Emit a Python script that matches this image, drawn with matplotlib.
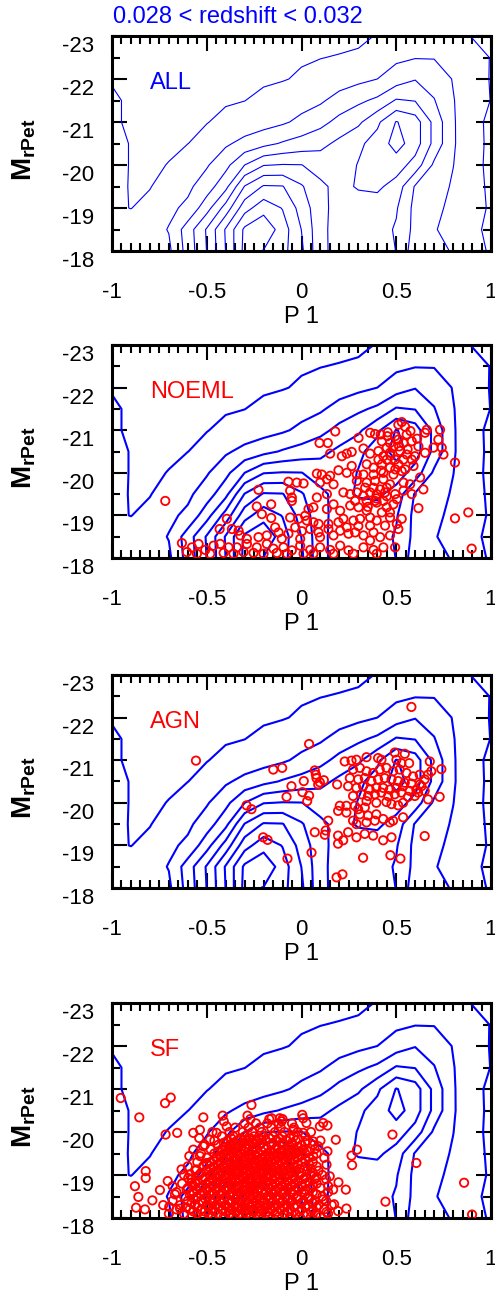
import numpy as np
import matplotlib
matplotlib.use('Agg')
from matplotlib import pyplot as plt
from matplotlib.ticker import MultipleLocator, FuncFormatter

plt.rcParams['font.family'] = ['Liberation Sans', 'DejaVu Sans']
plt.rcParams['mathtext.fontset'] = 'custom'
plt.rcParams['mathtext.rm'] = 'Liberation Sans'
plt.rcParams['mathtext.bf'] = 'Liberation Sans:bold'
plt.rcParams['axes.unicode_minus'] = False

title = '0.028 < redshift < 0.032'
panel_names = ['ALL', 'NOEML', 'AGN', 'SF']
panel_colors = ['blue', 'red', 'red', 'red']

# density grid of the whole sample (contour levels 1..9)
p1_bins = [-1.0, -0.9, -0.8, -0.7, -0.6, -0.5, -0.4, -0.3, -0.2, -0.1, 0.0,
           0.1, 0.2, 0.3, 0.4, 0.5, 0.6, 0.7, 0.8, 0.9, 1.0]
mag_bins = [-23.0, -22.5, -22.0, -21.5, -21.0, -20.5, -20.0, -19.5, -19.0, -18.5, -18.0]
density = [
    [0.3, 0.2, 0.2, 0.2, 0.3, 0.3, 0.4, 0.5, 0.5, 0.6, 0.7, 0.75, 0.75, 0.8, 1.05, 1.2, 1.3, 1.3, 1.15, 0.98, 0.7],
    [0.6, 0.4, 0.35, 0.4, 0.45, 0.5, 0.6, 0.65, 0.75, 0.85, 0.92, 0.98, 1.05, 1.15, 1.6, 1.8, 1.95, 1.95, 1.6, 1.2, 0.98],
    [0.95, 0.7, 0.55, 0.55, 0.6, 0.65, 0.7, 0.8, 0.88, 0.95, 1.1, 1.3, 1.5, 1.75, 2.0, 2.5, 2.95, 2.6, 1.95, 1.4, 0.95],
    [1.1, 0.9, 0.75, 0.75, 0.8, 0.85, 0.92, 0.99, 1.2, 1.4, 1.6, 1.85, 2.4, 2.8, 3.2, 4.1, 3.95, 3.05, 2.05, 1.4, 0.98],
    [1.05, 0.95, 0.85, 0.85, 0.9, 0.97, 1.2, 1.4, 1.6, 1.85, 2.25, 2.7, 3.3, 3.8, 4.8, 6.05, 5.5, 3.7, 2.1, 1.3, 0.8],
    [1.2, 0.97, 0.9, 0.9, 0.99, 1.3, 1.85, 2.3, 2.7, 3.1, 3.4, 3.7, 4.25, 4.8, 5.4, 6.4, 5.5, 3.7, 2.1, 1.35, 0.8],
    [1.2, 0.97, 0.9, 1.02, 1.5, 1.9, 2.7, 4.0, 4.95, 5.05, 5.02, 4.6, 4.5, 5.05, 5.4, 5.5, 4.6, 2.8, 2.02, 1.35, 0.75],
    [1.15, 0.97, 0.95, 1.5, 1.8, 2.5, 3.7, 6.05, 7.1, 7.05, 6.1, 5.2, 4.7, 5.1, 5.2, 4.6, 2.9, 2.4, 1.9, 1.4, 0.8],
    [1.15, 0.98, 1.3, 1.8, 2.2, 3.6, 5.4, 7.6, 8.6, 7.95, 6.6, 5.3, 4.6, 4.5, 4.5, 4.1, 2.7, 2.2, 1.8, 1.3, 0.9],
    [1.4, 1.5, 1.6, 2.05, 3.5, 5.1, 7.1, 9.2, 9.8, 8.5, 6.98, 5.25, 4.6, 4.5, 4.4, 3.9, 2.7, 2.1, 1.5, 1.1, 0.9],
    [1.1, 1.4, 1.6, 1.8, 3.4, 5.02, 7.02, 9.3, 8.95, 8.3, 7.2, 5.2, 4.7, 4.6, 4.5, 3.98, 2.4, 2.2, 1.95, 1.3, 0.9],
]
levels = [1, 2, 3, 4, 5, 6, 7, 8, 9]

noeml_points = [
    (0.178, -20.97), (0.511, -21.13), (0.529, -21.19), (0.547, -21.08), (0.652, -20.94), (0.661, -21.01),
    (0.731, -21.01), (0.362, -20.94), (0.388, -20.91), (0.418, -20.90), (0.453, -20.86), (0.494, -20.86),
    (0.555, -20.90), (0.095, -20.70), (0.139, -20.70), (0.301, -20.82), (0.424, -20.74), (0.467, -20.70),
    (0.511, -20.78), (0.538, -20.70), (0.582, -20.74), (0.617, -20.62), (0.722, -20.78), (0.696, -20.59),
    (0.740, -20.59), (0.485, -20.62), (0.450, -20.59), (0.151, -20.45), (0.213, -20.39), (0.239, -20.45),
    (0.265, -20.49), (0.327, -20.57), (0.362, -20.45), (0.406, -20.51), (0.432, -20.39), (0.467, -20.47),
    (0.520, -20.51), (0.555, -20.43), (0.599, -20.39), (0.652, -20.47), (0.749, -20.43), (0.494, -20.31),
    (0.538, -20.31), (0.582, -20.31), (0.450, -20.31), (0.406, -20.31), (0.810, -20.24), (0.344, -20.20),
    (0.380, -20.12), (0.424, -20.20), (0.467, -20.12), (0.511, -20.20), (0.547, -20.08), (0.591, -20.16),
    (0.265, -20.16), (0.239, -20.00), (0.195, -20.06), (0.081, -19.98), (0.107, -19.96), (0.151, -19.93),
    (0.292, -19.96), (0.327, -19.96), (0.380, -19.96), (0.432, -20.00), (0.485, -19.96), (0.529, -20.04),
    (0.626, -19.89), (-0.069, -19.79), (-0.025, -19.77), (0.011, -19.75), (0.134, -19.85), (0.169, -19.73),
    (0.098, -19.77), (0.292, -19.81), (0.344, -19.77), (0.388, -19.81), (0.432, -19.85), (0.467, -19.73),
    (0.538, -19.77), (0.573, -19.73), (0.336, -19.65), (0.380, -19.65), (0.415, -19.61), (0.450, -19.65),
    (-0.227, -19.60), (-0.060, -19.58), (-0.051, -19.42), (-0.051, -19.34), (0.081, -19.42), (0.134, -19.50),
    (0.221, -19.54), (0.257, -19.50), (0.292, -19.54), (0.327, -19.46), (0.362, -19.54), (0.397, -19.50),
    (0.441, -19.54), (0.494, -19.50), (0.538, -19.58), (0.582, -19.50), (0.643, -19.61), (0.283, -19.34),
    (0.344, -19.34), (0.388, -19.34), (0.432, -19.34), (0.503, -19.38), (-0.236, -19.21), (-0.160, -19.26),
    (0.037, -19.15), (0.063, -19.19), (0.134, -19.15), (0.169, -19.26), (0.257, -19.23), (0.301, -19.19),
    (0.397, -19.30), (0.450, -19.19), (0.485, -19.26), (0.617, -19.17), (0.204, -19.11), (0.344, -19.11),
    (0.424, -19.07), (0.467, -19.07), (-0.394, -18.92), (-0.209, -19.03), (-0.160, -18.94), (-0.060, -18.95),
    (-0.016, -18.92), (0.019, -18.99), (0.028, -18.88), (0.063, -18.84), (0.090, -18.80), (0.142, -18.80),
    (0.195, -18.84), (0.221, -18.92), (0.274, -18.88), (0.309, -18.92), (0.362, -18.95), (0.397, -18.88),
    (0.467, -18.95), (0.529, -18.92), (0.810, -18.93), (0.880, -19.07), (0.239, -18.72), (0.362, -18.76),
    (0.441, -18.76), (0.503, -18.80), (-0.432, -18.68), (-0.367, -18.68), (-0.332, -18.64), (-0.139, -18.72),
    (-0.121, -18.60), (-0.069, -18.57), (-0.033, -18.72), (0.002, -18.63), (0.046, -18.68), (0.090, -18.60),
    (0.142, -18.68), (0.169, -18.53), (0.204, -18.64), (0.248, -18.57), (0.283, -18.60), (0.327, -18.53),
    (0.380, -18.60), (0.415, -18.49), (0.467, -18.53), (0.511, -18.68), (-0.323, -18.53), (-0.288, -18.45),
    (-0.227, -18.49), (-0.183, -18.53), (-0.104, -18.45), (-0.007, -18.45), (0.098, -18.49), (0.362, -18.41),
    (-0.631, -18.35), (-0.578, -18.25), (-0.543, -18.33), (-0.508, -18.19), (-0.464, -18.29), (-0.429, -18.33),
    (-0.385, -18.25), (-0.341, -18.25), (-0.288, -18.33), (-0.236, -18.25), (-0.183, -18.33), (-0.148, -18.22),
    (-0.095, -18.25), (-0.051, -18.18), (-0.007, -18.29), (0.046, -18.19), (0.098, -18.25), (0.151, -18.19),
    (0.204, -18.29), (0.248, -18.18), (0.327, -18.25), (0.380, -18.19), (0.432, -18.25), (0.494, -18.25),
    (0.898, -18.22), (-0.605, -18.14), (-0.552, -18.10), (-0.482, -18.10), (-0.411, -18.12), (-0.359, -18.10),
    (-0.306, -18.14), (-0.253, -18.12), (-0.200, -18.10), (-0.130, -18.12), (-0.077, -18.10), (0.011, -18.10),
    (0.063, -18.10), (0.169, -18.10), (0.274, -18.10), (0.397, -18.10), (-0.719, -19.34),
    (0.455, -20.95), (0.575, -20.98), (0.610, -20.80), (0.470, -20.40), (0.515, -20.62), (0.560, -20.55),
    (0.420, -20.05), (0.495, -20.08), (0.450, -19.45), (0.395, -19.40), (0.350, -19.20), (0.300, -18.75),
]

agn_points = [
    (0.580, -22.25), (0.040, -21.38), (-0.557, -20.99), (-0.149, -20.78), (-0.102, -20.82), (0.070, -20.76),
    (0.076, -20.66), (0.079, -20.58), (0.097, -20.48), (0.118, -20.53), (0.088, -20.43), (0.012, -20.51),
    (-0.053, -20.39), (0.005, -20.25), (0.040, -20.17), (-0.079, -20.14), (0.030, -20.04), (-0.290, -19.94),
    (-0.264, -19.85), (0.188, -20.43), (0.228, -20.97), (0.264, -20.99), (0.290, -21.01), (0.343, -21.07),
    (0.404, -21.05), (0.422, -21.01), (0.492, -21.18), (0.545, -21.15), (0.501, -21.01), (0.527, -20.93),
    (0.568, -20.93), (0.677, -20.97), (0.738, -20.79), (0.668, -20.66), (0.650, -20.55), (0.633, -20.39),
    (0.615, -20.24), (0.598, -20.16), (0.668, -20.08), (0.729, -20.14), (0.685, -20.74), (0.272, -20.78),
    (0.308, -20.82), (0.343, -20.74), (0.378, -20.70), (0.413, -20.78), (0.448, -20.82), (0.483, -20.74),
    (0.518, -20.78), (0.554, -20.70), (0.589, -20.62), (0.624, -20.66), (0.255, -20.58), (0.299, -20.55),
    (0.334, -20.58), (0.369, -20.51), (0.404, -20.55), (0.439, -20.58), (0.475, -20.55), (0.510, -20.51),
    (0.545, -20.47), (0.580, -20.45), (0.624, -20.43), (0.246, -20.39), (0.290, -20.35), (0.325, -20.39),
    (0.360, -20.31), (0.395, -20.35), (0.431, -20.35), (0.466, -20.31), (0.501, -20.35), (0.536, -20.39),
    (0.571, -20.28), (0.606, -20.31), (0.650, -20.28), (0.272, -20.16), (0.316, -20.20), (0.351, -20.16),
    (0.387, -20.20), (0.422, -20.24), (0.457, -20.16), (0.492, -20.20), (0.527, -20.24), (0.562, -20.14),
    (0.343, -20.04), (0.395, -20.00), (0.448, -20.02), (0.475, -19.97), (0.510, -19.94), (0.536, -20.00),
    (0.281, -19.93), (0.237, -19.93), (0.202, -19.93), (0.193, -19.81), (0.237, -19.77), (0.299, -19.85),
    (0.334, -19.89), (0.308, -19.73), (0.272, -19.58), (0.290, -19.50), (0.343, -19.54), (0.387, -19.58),
    (0.431, -19.62), (0.466, -19.54), (0.483, -19.58), (0.536, -19.66), (0.395, -19.73), (0.351, -19.70),
    (0.141, -19.58), (0.070, -19.31), (0.128, -19.35), (0.123, -19.25), (0.193, -19.23), (0.246, -19.31),
    (0.290, -19.19), (0.334, -19.27), (0.378, -19.23), (0.431, -19.12), (0.475, -19.19), (0.650, -19.22),
    (0.193, -19.04), (0.220, -19.12), (0.053, -18.83), (-0.074, -18.69), (0.325, -18.71), (0.469, -18.77),
    (0.522, -18.69), (0.185, -18.25), (0.216, -18.32), (-0.202, -19.19), (-0.179, -19.13),
]

sf_outer_points = [
    (-0.954, -20.79), (-0.720, -20.67), (-0.690, -20.80), (-0.856, -20.34), (-0.717, -19.94), (-0.656, -19.98),
    (-0.518, -20.34), (-0.416, -20.38), (-0.410, -20.25), (-0.264, -20.63), (-0.285, -20.38), (-0.158, -20.32),
    (-0.114, -20.32), (-0.105, -20.25), (0.004, -20.40), (0.026, -20.21), (0.009, -20.32), (0.097, -20.13),
    (0.137, -20.15), (0.114, -20.21), (0.181, -19.82), (0.137, -19.55), (0.264, -19.45), (0.293, -19.59),
    (0.267, -19.23), (0.480, -19.94), (0.606, -19.28), (0.858, -18.82), (0.443, -18.38), (0.900, -18.08),
    (-0.822, -19.09), (-0.822, -18.93), (-0.879, -18.74), (-0.861, -18.49), (-0.873, -18.24), (-0.826, -18.20),
    (-0.787, -18.41), (-0.747, -18.65), (-0.706, -18.86), (-0.680, -18.74), (-0.698, -18.26), (-0.668, -18.55),
    (-0.633, -19.13), (-0.641, -18.22), (-0.592, -19.44), (-0.571, -19.98), (-0.540, -19.86), (-0.598, -18.93),
    (-0.606, -18.66), (0.195, -18.83), (0.234, -18.66), (0.237, -18.22), (0.172, -18.32), (0.193, -18.16),
    (0.132, -18.14), (0.114, -18.43), (0.088, -19.67), (0.132, -19.24), (0.149, -18.97), (0.141, -18.74),
    (0.062, -19.44), (0.062, -19.78), (0.009, -19.98), (-0.044, -20.05), (0.167, -18.66), (-0.571, -19.59),
    (-0.536, -19.44), (-0.518, -19.67), (-0.483, -19.82), (-0.448, -19.98), (-0.501, -19.28), (-0.554, -19.13),
    (-0.589, -19.01), (-0.580, -18.82), (-0.571, -18.59), (-0.536, -20.05), (-0.395, -20.13),
]

# dense core of the SF sample, read row by row: (M_rPet, [P1 values])
sf_core_rows = [
    (-18.03, [-0.58, -0.52, -0.47, -0.41, -0.36, -0.31, -0.27, -0.22, -0.17, -0.12, -0.06, -0.01, 0.05, 0.10]),
    (-18.10, [-0.70, -0.62, -0.55, -0.49, -0.44, -0.38, -0.33, -0.29, -0.24, -0.19, -0.14, -0.09, -0.03, 0.03, 0.08, 0.14]),
    (-18.15, [-0.57, -0.51, -0.46, -0.40, -0.35, -0.30, -0.26, -0.22, -0.18, -0.13, -0.07, -0.01, 0.05]),
    (-18.20, [-0.66, -0.59, -0.53, -0.47, -0.42, -0.37, -0.32, -0.28, -0.25, -0.21, -0.16, -0.11, -0.06, 0.00, 0.06, 0.12]),
    (-18.25, [-0.61, -0.55, -0.49, -0.44, -0.39, -0.34, -0.30, -0.27, -0.23, -0.19, -0.14, -0.09, -0.04, 0.02, 0.08]),
    (-18.30, [-0.73, -0.64, -0.56, -0.50, -0.45, -0.40, -0.35, -0.30, -0.26, -0.22, -0.18, -0.13, -0.08, -0.03, 0.03, 0.09, 0.16]),
    (-18.35, [-0.58, -0.52, -0.47, -0.42, -0.37, -0.32, -0.28, -0.24, -0.20, -0.16, -0.11, -0.06, 0.00, 0.06]),
    (-18.40, [-0.68, -0.60, -0.53, -0.48, -0.43, -0.38, -0.33, -0.29, -0.24, -0.20, -0.15, -0.10, -0.05, 0.01, 0.07, 0.13]),
    (-18.45, [-0.57, -0.51, -0.46, -0.41, -0.35, -0.31, -0.26, -0.22, -0.17, -0.12, -0.07, -0.02, 0.04]),
    (-18.50, [-0.62, -0.55, -0.50, -0.45, -0.40, -0.36, -0.31, -0.27, -0.23, -0.18, -0.13, -0.08, -0.02, 0.04, 0.11]),
    (-18.55, [-0.59, -0.53, -0.48, -0.43, -0.38, -0.34, -0.30, -0.25, -0.20, -0.15, -0.10, -0.04, 0.02, 0.08]),
    (-18.60, [-0.66, -0.57, -0.52, -0.47, -0.42, -0.37, -0.33, -0.28, -0.25, -0.21, -0.16, -0.11, -0.06, 0.00, 0.06, 0.14]),
    (-18.65, [-0.55, -0.50, -0.45, -0.40, -0.35, -0.31, -0.27, -0.23, -0.19, -0.14, -0.09, -0.04, 0.02]),
    (-18.70, [-0.60, -0.54, -0.49, -0.44, -0.39, -0.34, -0.30, -0.26, -0.22, -0.17, -0.12, -0.07, -0.02, 0.05, 0.10]),
    (-18.75, [-0.57, -0.52, -0.47, -0.42, -0.37, -0.33, -0.29, -0.24, -0.20, -0.15, -0.10, -0.05, 0.00, 0.06]),
    (-18.80, [-0.63, -0.56, -0.50, -0.45, -0.41, -0.36, -0.31, -0.27, -0.23, -0.19, -0.14, -0.09, -0.04, 0.02, 0.08]),
    (-18.85, [-0.55, -0.49, -0.44, -0.39, -0.35, -0.30, -0.26, -0.22, -0.17, -0.12, -0.07, -0.02, 0.04]),
    (-18.90, [-0.58, -0.52, -0.47, -0.42, -0.37, -0.33, -0.28, -0.24, -0.20, -0.15, -0.10, -0.05, 0.01, 0.07, 0.13]),
    (-18.95, [-0.51, -0.45, -0.40, -0.36, -0.31, -0.27, -0.23, -0.18, -0.14, -0.09, -0.04, 0.02, 0.08]),
    (-19.00, [-0.62, -0.54, -0.48, -0.43, -0.38, -0.34, -0.29, -0.25, -0.21, -0.17, -0.12, -0.07, -0.01, 0.05, 0.11]),
    (-19.05, [-0.53, -0.47, -0.42, -0.37, -0.33, -0.29, -0.24, -0.20, -0.15, -0.10, -0.05, 0.00, 0.06]),
    (-19.10, [-0.56, -0.50, -0.45, -0.40, -0.35, -0.31, -0.27, -0.22, -0.18, -0.13, -0.08, -0.03, 0.03, 0.09]),
    (-19.15, [-0.48, -0.43, -0.38, -0.34, -0.30, -0.25, -0.21, -0.16, -0.11, -0.06, -0.01, 0.05]),
    (-19.20, [-0.60, -0.52, -0.46, -0.41, -0.37, -0.32, -0.28, -0.24, -0.19, -0.14, -0.09, -0.04, 0.02, 0.08]),
    (-19.25, [-0.50, -0.44, -0.39, -0.35, -0.30, -0.26, -0.22, -0.17, -0.12, -0.07, -0.02, 0.04]),
    (-19.30, [-0.55, -0.48, -0.43, -0.38, -0.33, -0.29, -0.25, -0.20, -0.16, -0.11, -0.06, 0.00, 0.06]),
    (-19.35, [-0.46, -0.41, -0.36, -0.31, -0.27, -0.23, -0.18, -0.14, -0.09, -0.04, 0.02]),
    (-19.40, [-0.50, -0.45, -0.40, -0.35, -0.30, -0.26, -0.21, -0.17, -0.12, -0.07, -0.02, 0.04, 0.12]),
    (-19.45, [-0.43, -0.38, -0.33, -0.28, -0.24, -0.19, -0.15, -0.10, -0.05, 0.00]),
    (-19.50, [-0.53, -0.46, -0.41, -0.36, -0.32, -0.27, -0.23, -0.18, -0.13, -0.08, -0.03, 0.02, 0.08]),
    (-19.55, [-0.44, -0.39, -0.34, -0.30, -0.26, -0.21, -0.16, -0.11, -0.06, -0.01, 0.04]),
    (-19.60, [-0.48, -0.42, -0.37, -0.32, -0.28, -0.24, -0.19, -0.14, -0.09, -0.04, 0.01, 0.07]),
    (-19.65, [-0.40, -0.35, -0.30, -0.25, -0.20, -0.13, -0.07, -0.02]),
    (-19.70, [-0.51, -0.44, -0.38, -0.33, -0.28, -0.22, -0.16, -0.10, -0.05, 0.00, 0.06]),
    (-19.75, [-0.41, -0.36, -0.31, -0.26, -0.21, -0.15, -0.10, -0.05, 0.02]),
    (-19.80, [-0.46, -0.39, -0.34, -0.29, -0.24, -0.19, -0.13, -0.08, -0.03, 0.03, 0.10]),
    (-19.85, [-0.37, -0.32, -0.27, -0.22, -0.17, -0.12, -0.06]),
    (-19.90, [-0.42, -0.36, -0.30, -0.25, -0.20, -0.15, -0.10, -0.04, 0.02]),
    (-20.00, [-0.47, -0.38, -0.31, -0.26, -0.21, -0.14, -0.09, -0.02, 0.05]),
    (-20.10, [-0.35, -0.28, -0.22, -0.16, -0.11, -0.04]),
    (-20.20, [-0.30, -0.24, -0.18, -0.12, -0.05]),
    (-20.30, [-0.27, -0.17, -0.10]),
]

sf_points = list(sf_outer_points)
for mag, p1_list in sf_core_rows:
    for p1 in p1_list:
        sf_points.append((p1, mag))

panel_points = [None, noeml_points, agn_points, sf_points]

# panel frames in pixels (top, bottom) of a 495 x 1293 figure
W, H = 495.0, 1293.0
panel_px = [(36, 251), (345, 558), (675, 888), (1003, 1218)]
contour_widths = [0.8, 1.5, 1.5, 1.5]

fig = plt.figure(figsize=(4.95, 12.93), dpi=100)

for i, (top, bottom) in enumerate(panel_px):
    ax = fig.add_axes([112 / W, 1 - bottom / H, 379 / W, (bottom - top) / H])

    ax.contour(p1_bins, mag_bins, np.array(density), levels=levels,
               colors='blue', linewidths=contour_widths[i])

    pts = panel_points[i]
    if pts is not None:
        arr = np.array(pts)
        ax.scatter(arr[:, 0], arr[:, 1], s=36, facecolors='none', edgecolors='red',
                   linewidths=1.3, zorder=3)

    ax.set_xlim(-1, 1)
    ax.set_ylim(-18, -23)
    ax.xaxis.set_major_locator(MultipleLocator(0.5))
    ax.xaxis.set_minor_locator(MultipleLocator(0.05))
    ax.yaxis.set_major_locator(MultipleLocator(1))
    ax.yaxis.set_minor_locator(MultipleLocator(0.5))
    ax.xaxis.set_major_formatter(FuncFormatter(lambda v, p: '%g' % v))
    ax.yaxis.set_major_formatter(FuncFormatter(lambda v, p: '%d' % round(v)))

    ax.tick_params(which='both', direction='in', top=True, right=True, width=1.5)
    ax.tick_params(which='major', length=11)
    ax.tick_params(which='minor', length=6)
    ax.tick_params(axis='x', pad=22, labelsize=16)
    ax.tick_params(axis='y', pad=13, labelsize=16)
    for tick in ax.yaxis.get_major_ticks():
        tick.label1.set_verticalalignment('top')

    for spine in ax.spines.values():
        spine.set_linewidth(2.2)

    ax.text(-0.8, -21.9, panel_names[i], color=panel_colors[i], fontsize=17,
            ha='left', va='center')
    # axis title sits 66 px under the frame
    fig.text(301.5 / W, 1 - (bottom + 66) / H, 'P 1', ha='center', va='center',
             fontsize=17)
    ax.text(-0.232, 0.47, r'$\mathbf{M_{rPet}}$', transform=ax.transAxes, rotation=90,
            ha='center', va='center', fontsize=20)

fig.text(113 / W, 1 - 17 / H, title, color='blue', fontsize=17, ha='left', va='center')

fig.savefig('out.png', dpi=100)
